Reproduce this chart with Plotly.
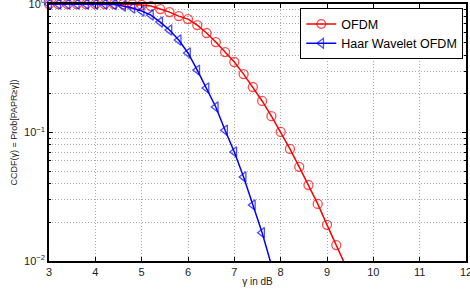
import plotly.graph_objects as go

gamma_db = [3.0, 3.2, 3.4, 3.6, 3.8, 4.0, 4.2, 4.4, 4.6, 4.8, 5.0, 5.2, 5.4, 5.6, 5.8,
            6.0, 6.2, 6.4, 6.6, 6.8, 7.0, 7.2, 7.4, 7.6, 7.8, 8.0, 8.2, 8.4, 8.6,
            8.8, 9.0, 9.2, 9.4]

ofdm = [1.0, 1.0, 1.0, 1.0, 1.0, 1.0, 1.0, 1.0, 1.0, 0.995, 0.985, 0.965, 0.914, 0.866, 0.806,
        0.764, 0.686, 0.595, 0.506, 0.423, 0.354, 0.285, 0.226, 0.176, 0.134, 0.101, 0.0745, 0.054, 0.039,
        0.0278, 0.0191, 0.0133, 0.0092]

haar_x = gamma_db[:25]
haar = [1.0, 1.0, 1.0, 1.0, 1.0, 1.0, 1.0, 0.99, 0.965, 0.931, 0.882, 0.821, 0.724, 0.628, 0.525,
        0.416, 0.306, 0.222, 0.158, 0.104, 0.0706, 0.0451, 0.0273, 0.0166, 0.0093]

x_ticks = [3, 4, 5, 6, 7, 8, 9, 10, 11, 12]
y_ticks = [0.01, 0.1, 1]
y_ticktext = ["10<sup>−2</sup>", "10<sup>−1</sup>", "10<sup>0</sup>"]

Y_MIN = 0.01


def marker_sizes(values, size):
    # hide markers that fall outside the visible axis range (MATLAB clips them)
    return [size if v >= Y_MIN else 0 for v in values]


fig = go.Figure()
fig.add_trace(go.Scatter(
    x=gamma_db, y=ofdm, mode="lines+markers", name="OFDM",
    line=dict(color="#ff0000", width=1.5), cliponaxis=False,
    marker=dict(symbol="circle-open", size=marker_sizes(ofdm, 9), color="#ff0000",
                line=dict(width=1.3)),
))
fig.add_trace(go.Scatter(
    x=haar_x, y=haar, mode="lines+markers", name="Haar Wavelet OFDM",
    line=dict(color="#0000ff", width=1.5), cliponaxis=False,
    marker=dict(symbol="triangle-left-open", size=marker_sizes(haar, 9), color="#0000ff",
                line=dict(width=1.3)),
))

DOT = "1px,2px"
grid_common = dict(showgrid=True, gridcolor="#a8a8a8", griddash=DOT, gridwidth=1,
                   showline=True, linecolor="black", linewidth=1.5, mirror="ticks",
                   ticks="inside", ticklen=4, tickcolor="black", zeroline=False,
                   ticklabeloverflow="allow", automargin=False,
                   tickfont=dict(size=11, color="#222222"))

fig.update_xaxes(range=[3, 12], tickvals=x_ticks, title=dict(text="γ in dB", standoff=1,
                 font=dict(size=10)), **grid_common)
fig.update_yaxes(type="log", range=[-2.0005, 0.0005], tickvals=y_ticks, ticktext=y_ticktext,
                 title=dict(text="CCDF(γ) = Prob[PAPR≥γ])", standoff=5, font=dict(size=9)),
                 minor=dict(showgrid=True, gridcolor="#a8a8a8", griddash=DOT, gridwidth=1,
                            ticks="inside", ticklen=2, tickcolor="black", dtick="D1"),
                 **grid_common)

fig.update_layout(
    width=470, height=289,
    margin=dict(l=49, r=4, t=4, b=28),
    paper_bgcolor="white", plot_bgcolor="white",
    font=dict(family="Liberation Sans, Arial, sans-serif", size=10, color="#222222"),
    showlegend=True,
    legend=dict(x=0.993, y=0.984, xanchor="right", yanchor="top",
                bgcolor="white", bordercolor="black", borderwidth=1.2,
                font=dict(size=12.5, color="black"), tracegroupgap=0, itemwidth=30),
)

fig.write_html("out.html")
